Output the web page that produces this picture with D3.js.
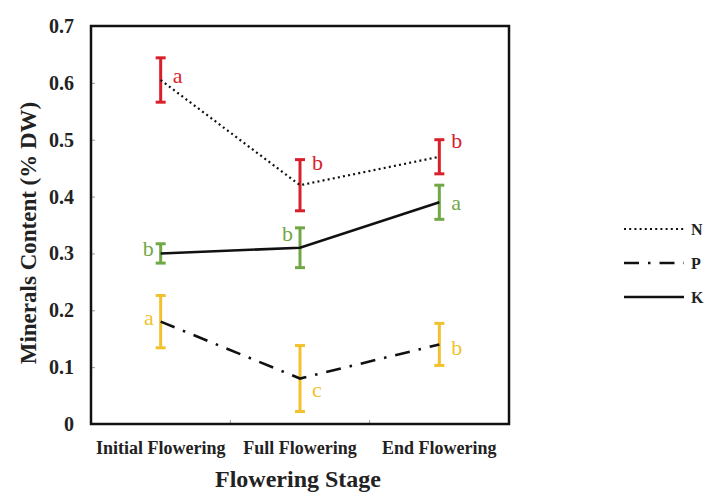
<!DOCTYPE html>
<html>
<head>
<meta charset="utf-8">
<script src="https://cdn.jsdelivr.net/npm/d3@7"></script>
<style>
  body { margin: 0; background: #fff; }
  svg { display: block; font-family: "Liberation Serif", "Times New Roman", serif; }
</style>
</head>
<body>
<svg id="chart" width="719" height="497"></svg>
<script>
// data
const stages = ['Initial Flowering', 'Full Flowering', 'End Flowering'];
const nValues = [0.605, 0.42, 0.47];
const nErrors = [0.039, 0.045, 0.03];
const pValues = [0.18, 0.08, 0.14];
const pErrors = [0.046, 0.058, 0.037];
const kValues = [0.30, 0.31, 0.39];
const kErrors = [0.017, 0.035, 0.03];
const yTicks = [0, 0.1, 0.2, 0.3, 0.4, 0.5, 0.6, 0.7];

// significance letters: [stage index, letter, side, y value]
const nLetters = [[0, 'a', 'right', 0.613], [1, 'b', 'right', 0.459], [2, 'b', 'right', 0.497]];
const kLetters = [[0, 'b', 'left', 0.307], [1, 'b', 'left', 0.334], [2, 'a', 'right', 0.388]];
const pLetters = [[0, 'a', 'left', 0.186], [1, 'c', 'right', 0.06], [2, 'b', 'right', 0.134]];

const series = [
  { name: 'N', values: nValues, errors: nErrors, letters: nLetters, color: '#d9202a', dash: '2,3.2', width: 2.2 },
  { name: 'P', values: pValues, errors: pErrors, letters: pLetters, color: '#f2c12e', dash: '15,9,2.5,9', width: 2.6 },
  { name: 'K', values: kValues, errors: kErrors, letters: kLetters, color: '#70a845', dash: null, width: 2.6 }
];

const svg = d3.select('#chart');
const margin = { left: 91, top: 26, right: 509, bottom: 424 };

const x = d3.scaleBand().domain(stages).range([margin.left, margin.right]).padding(0);
const y = d3.scaleLinear().domain([0, 0.7]).range([margin.bottom, margin.top]);
const cx = i => x(stages[i]) + x.bandwidth() / 2;

// inner tick marks
svg.append('g')
  .attr('transform', `translate(${margin.left},0)`)
  .call(d3.axisRight(y).tickValues(yTicks).tickSize(4).tickFormat(''))
  .call(g => g.select('.domain').remove())
  .call(g => g.selectAll('line').attr('stroke', '#999'));

svg.append('g')
  .attr('transform', `translate(0,${margin.bottom})`)
  .call(d3.axisTop(x).tickSize(4).tickFormat(''))
  .call(g => g.select('.domain').remove())
  .call(g => g.selectAll('.tick').attr('transform', d => `translate(${x(d)},0)`))
  .call(g => g.selectAll('line').attr('stroke', '#999').filter((d, i) => i === 0).remove());

// y tick labels
svg.append('g')
  .selectAll('text')
  .data(yTicks)
  .join('text')
  .attr('x', 74)
  .attr('y', d => y(d))
  .attr('dy', '0.35em')
  .attr('text-anchor', 'end')
  .attr('font-size', 20)
  .attr('font-weight', 'bold')
  .attr('fill', '#222')
  .text(d => d === 0 ? '0' : d3.format('.1f')(d));

// x tick labels
svg.append('g')
  .selectAll('text')
  .data(stages)
  .join('text')
  .attr('x', d => x(d) + x.bandwidth() / 2)
  .attr('y', 454)
  .attr('text-anchor', 'middle')
  .attr('font-size', 18)
  .attr('font-weight', 'bold')
  .attr('fill', '#222')
  .text(d => d);

// axis titles
svg.append('text')
  .attr('x', 298)
  .attr('y', 487)
  .attr('text-anchor', 'middle')
  .attr('font-size', 24)
  .attr('font-weight', 'bold')
  .attr('fill', '#222')
  .text('Flowering Stage');

svg.append('text')
  .attr('transform', `translate(36,${(margin.top + margin.bottom) / 2 + 8}) rotate(-90)`)
  .attr('text-anchor', 'middle')
  .attr('font-size', 23)
  .attr('font-weight', 'bold')
  .attr('fill', '#222')
  .text('Minerals Content (% DW)');

const line = d3.line().x((d, i) => cx(i)).y(d => y(d));

series.forEach(s => {
  const g = svg.append('g');

  // error bars
  const eb = g.selectAll('g.err')
    .data(s.values)
    .join('g')
    .attr('stroke', s.color)
    .attr('stroke-width', 3);
  eb.append('line')
    .attr('x1', (d, i) => cx(i)).attr('x2', (d, i) => cx(i))
    .attr('y1', (d, i) => y(d + s.errors[i])).attr('y2', (d, i) => y(d - s.errors[i]));
  eb.append('line')
    .attr('x1', (d, i) => cx(i) - 5).attr('x2', (d, i) => cx(i) + 5)
    .attr('y1', (d, i) => y(d + s.errors[i])).attr('y2', (d, i) => y(d + s.errors[i]));
  eb.append('line')
    .attr('x1', (d, i) => cx(i) - 5).attr('x2', (d, i) => cx(i) + 5)
    .attr('y1', (d, i) => y(d - s.errors[i])).attr('y2', (d, i) => y(d - s.errors[i]));

  // line
  g.append('path')
    .datum(s.values)
    .attr('d', line)
    .attr('fill', 'none')
    .attr('stroke', '#111')
    .attr('stroke-width', s.width)
    .attr('stroke-dasharray', s.dash);

  // letters
  g.selectAll('text')
    .data(s.letters)
    .join('text')
    .attr('x', d => d[2] === 'right' ? cx(d[0]) + 12 : cx(d[0]) - 7)
    .attr('y', d => y(d[3]))
    .attr('dy', '0.32em')
    .attr('text-anchor', d => d[2] === 'right' ? 'start' : 'end')
    .attr('font-size', 22)
    .attr('fill', s.color)
    .text(d => d[1]);
});

// frame
svg.append('rect')
  .attr('x', margin.left)
  .attr('y', margin.top)
  .attr('width', margin.right - margin.left)
  .attr('height', margin.bottom - margin.top)
  .attr('fill', 'none')
  .attr('stroke', '#111')
  .attr('stroke-width', 2.5);

// legend
const legend = svg.append('g')
  .selectAll('g')
  .data(series)
  .join('g')
  .attr('transform', (d, i) => `translate(624,${229 + i * 34})`);
legend.append('line')
  .attr('x1', 0).attr('x2', 60)
  .attr('stroke', '#111')
  .attr('stroke-width', d => d.width)
  .attr('stroke-dasharray', d => d.dash);
legend.append('text')
  .attr('x', 67)
  .attr('dy', '0.35em')
  .attr('font-size', 16)
  .attr('font-weight', 'bold')
  .attr('fill', '#222')
  .text(d => d.name);
</script>
</body>
</html>
